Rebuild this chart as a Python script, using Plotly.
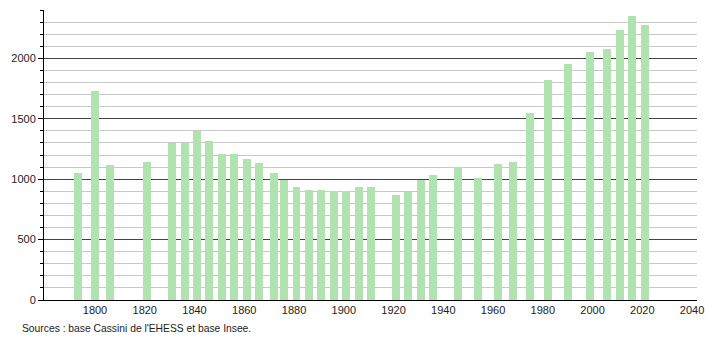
import plotly.graph_objects as go

years = [1793, 1800, 1806, 1821, 1831, 1836, 1841, 1846, 1851, 1856, 1861, 1866,
         1872, 1876, 1881, 1886, 1891, 1896, 1901, 1906, 1911, 1921, 1926, 1931,
         1936, 1946, 1954, 1962, 1968, 1975, 1982, 1990, 1999, 2006, 2011, 2016, 2021]
population = [1048, 1730, 1114, 1138, 1302, 1300, 1397, 1313, 1205, 1205, 1169, 1136,
              1047, 990, 939, 914, 914, 900, 906, 939, 939, 867, 897, 997,
              1033, 1099, 1011, 1122, 1138, 1545, 1820, 1953, 2052, 2077, 2235, 2351, 2279]
x_tick_vals = list(range(1800, 2041, 20))
y_major = [0, 500, 1000, 1500, 2000]
source_text = "Sources : base Cassini de l'EHESS et base Insee."

fig = go.Figure()
fig.add_trace(go.Bar(
    x=years, y=population, width=3.2,
    marker=dict(color="#b0e3b0", line=dict(width=0)),
    hoverinfo="x+y",
))

fig.update_layout(
    width=710, height=340,
    margin=dict(l=44, r=6, t=10, b=40),
    paper_bgcolor="white", plot_bgcolor="white",
    showlegend=False,
    font=dict(family="Liberation Sans, Arial, sans-serif", size=11, color="#222"),
    bargap=0,
)
fig.update_xaxes(
    range=[1779.5, 2042], tickvals=x_tick_vals, ticktext=[str(v) for v in x_tick_vals],
    showgrid=False, zeroline=False, showline=True, linecolor="black", linewidth=1,
    ticks="", tickfont=dict(size=11, color="#222"), ticklabeloverflow="allow",
)
fig.update_yaxes(
    range=[0, 2400], tickvals=y_major, showgrid=True, gridcolor="#444", gridwidth=1,
    zeroline=False, showline=True, linecolor="black", linewidth=1,
    ticks="outside", ticklen=5, tickcolor="black", tickfont=dict(size=11, color="#222"),
    minor=dict(dtick=100, showgrid=True, gridcolor="#c8c8c8", gridwidth=1,
               ticks="outside", ticklen=3, tickcolor="black"),
    layer="below traces",
)
fig.add_annotation(
    text=source_text, xref="paper", yref="paper",
    x=(20 - 44) / 660, y=-(328 - 300) / 290, xanchor="left", yanchor="middle",
    showarrow=False, font=dict(size=10.3, color="#222"),
)
fig.write_html("out.html")
